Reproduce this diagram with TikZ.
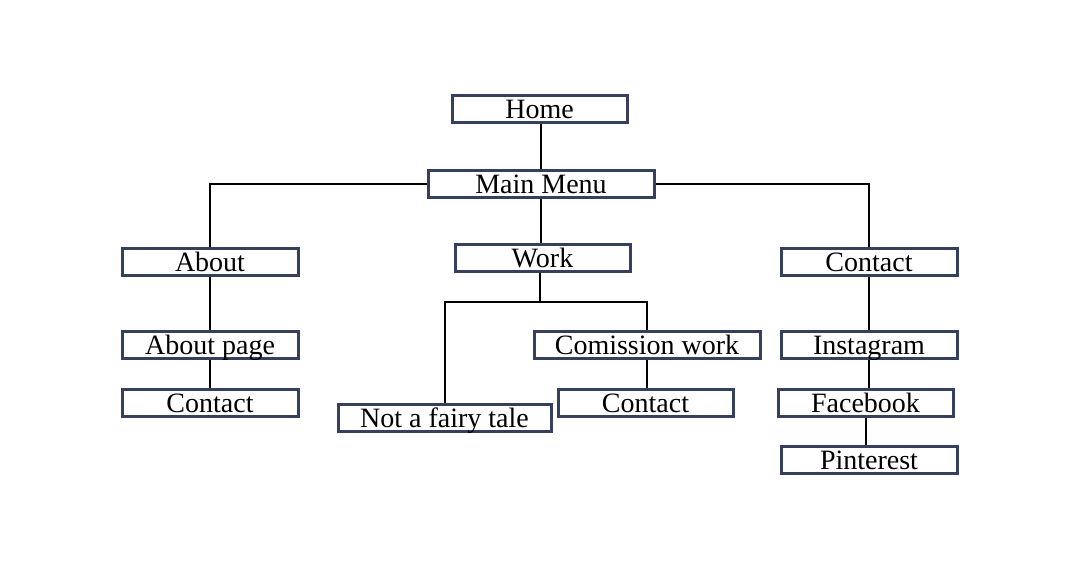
\documentclass[tikz,border=0pt]{standalone}
\usepackage{fontspec}
\setmainfont{Liberation Serif}
\definecolor{boxnavy}{HTML}{34405E}
\begin{document}
\begin{tikzpicture}[x=1pt,y=-1pt,
  box/.style={draw=boxnavy, line width=3pt, fill=white, inner sep=0pt,
    minimum height=27pt, text height=22pt, text depth=2pt,
    font=\fontsize{28}{28}\selectfont},
  link/.style={draw=black, line width=2pt}]
\useasboundingbox (0,0) rectangle (1080,566);
\fill[white] (0,0) rectangle (1080,566);
\node[box, minimum width=175pt] (home) at (539.5,108.5) {Home};
\node[box, minimum width=226pt] (mm) at (541,183.5) {Main Menu};
\node[box, minimum width=176pt] (about) at (210,261.5) {About};
\node[box, minimum width=175pt] (work) at (542.5,257.5) {Work};
\node[box, minimum width=176pt] (ct) at (869,261.5) {Contact};
\node[box, minimum width=176pt] (ap) at (210,344.5) {About page};
\node[box, minimum width=176pt] (cl) at (210,402.5) {Contact};
\node[box, minimum width=226pt] (cw) at (647,344.5) {Comission work};
\node[box, minimum width=175pt] (cm) at (645.5,402.5) {Contact};
\node[box, minimum width=213pt] (nf) at (444.5,417.5) {Not a fairy tale};
\node[box, minimum width=176pt] (ig) at (869,344.5) {Instagram};
\node[box, minimum width=175pt] (fb) at (865.5,402.5) {Facebook};
\node[box, minimum width=176pt] (pt) at (869,459.5) {Pinterest};
\coordinate (j) at (540,302);
\draw[link] (mm.north) -- (mm.north |- home.south);
\draw[link] (mm.west) -| (about.north);
\draw[link] (mm.east) -| (ct.north);
\draw[link] (mm.south) -- (mm.south |- work.north);
\draw[link] (j |- work.south) -- (j);
\draw[link] (nf.north) |- (j) -| (cw.north);
\draw[link] (about.south) -- (ap.north);
\draw[link] (ap.south) -- (cl.north);
\draw[link] (cw.south) -- (cw.south |- cm.north);
\draw[link] (ct.south) -- (ig.north);
\draw[link] (ig.south) -- (ig.south |- fb.north);
\draw[link] (fb.south) -- (fb.south |- pt.north);
\end{tikzpicture}
\end{document}
